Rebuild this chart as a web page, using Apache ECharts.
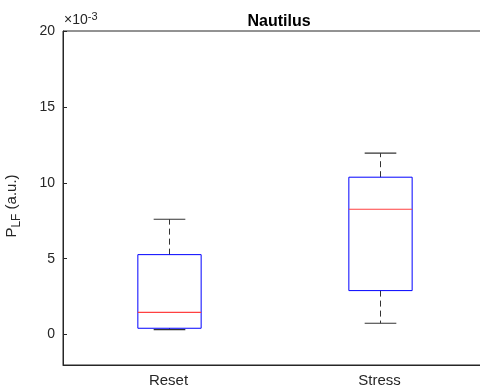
<!DOCTYPE html>
<html>
<head>
<meta charset="utf-8">
<script src="https://cdn.jsdelivr.net/npm/echarts@6/dist/echarts.min.js"></script>
<style>
html,body{margin:0;padding:0;background:#fff;overflow:hidden;}
#chart{width:486px;height:390px;}
</style>
</head>
<body>
<div id="chart"></div>
<script>
// Groups and box statistics (values in units of 1e-3)
const categories = ['Reset', 'Stress'];
const lowerWhisker = [0.33, 0.75];
const q1 = [0.42, 2.90];
const median = [1.47, 8.26];
const q3 = [5.27, 10.37];
const upperWhisker = [7.60, 11.95];
const yTicks = [0, 5, 10, 15, 20];

const boxData = categories.map((c, i) => [i, lowerWhisker[i], q1[i], median[i], q3[i], upperWhisker[i]]);

const axisColor = '#262626';
const font = 'Liberation Sans, Arial, Helvetica, sans-serif';

function renderBox(params, api) {
  const idx = api.value(0);
  const band = api.size([1, 0])[0];
  const boxHalf = band * 0.15;
  const capHalf = band * 0.075;
  const pLw = api.coord([idx, api.value(1)]);
  const pQ1 = api.coord([idx, api.value(2)]);
  const pMed = api.coord([idx, api.value(3)]);
  const pQ3 = api.coord([idx, api.value(4)]);
  const pUw = api.coord([idx, api.value(5)]);
  const x = Math.round(pMed[0]) + 0.5;
  const whisk = { stroke: '#333', lineWidth: 1, lineDash: [6, 4] };
  const cap = { stroke: '#333', lineWidth: 1.2 };
  return {
    type: 'group',
    children: [
      { type: 'line', shape: { x1: x, y1: pQ3[1], x2: x, y2: pUw[1] }, style: whisk },
      { type: 'line', shape: { x1: x, y1: pQ1[1], x2: x, y2: pLw[1] }, style: whisk },
      { type: 'line', shape: { x1: x - capHalf, y1: pUw[1], x2: x + capHalf, y2: pUw[1] }, style: cap },
      { type: 'line', shape: { x1: x - capHalf, y1: pLw[1], x2: x + capHalf, y2: pLw[1] }, style: cap },
      { type: 'rect', shape: { x: x - boxHalf, y: pQ3[1], width: boxHalf * 2, height: pQ1[1] - pQ3[1] },
        style: { fill: 'none', stroke: '#0000ff', lineWidth: 1 } },
      { type: 'line', shape: { x1: x - boxHalf, y1: pMed[1], x2: x + boxHalf, y2: pMed[1] },
        style: { stroke: '#ff4040', lineWidth: 1.2 } }
    ]
  };
}

const chart = echarts.init(document.getElementById('chart'), null, { renderer: 'canvas' });
chart.setOption({
  animation: false,
  backgroundColor: '#ffffff',
  title: {
    text: 'Nautilus',
    left: 274, top: 9, textAlign: 'center',
    textStyle: { fontFamily: font, fontSize: 16, fontWeight: 'bold', color: '#000' }
  },
  grid: {
    left: 63, right: 1, top: 31, bottom: 25,
    show: true, borderColor: axisColor, borderWidth: 1, backgroundColor: 'transparent'
  },
  xAxis: {
    type: 'category',
    data: categories,
    axisLine: { onZero: false, lineStyle: { color: axisColor, width: 1 } },
    axisTick: { inside: true, alignWithLabel: true, length: 4, lineStyle: { color: axisColor } },
    axisLabel: { color: axisColor, fontFamily: font, fontSize: 15, margin: 8 },
    splitLine: { show: false }
  },
  yAxis: {
    type: 'value',
    min: -2, max: 20,
    axisLine: { show: true, onZero: false, lineStyle: { color: axisColor, width: 1 } },
    axisTick: { show: true, inside: true, length: 4, customValues: yTicks, lineStyle: { color: axisColor } },
    axisLabel: { color: axisColor, fontFamily: font, fontSize: 14, margin: 8, customValues: yTicks },
    splitLine: { show: false }
  },
  graphic: [
    {
      type: 'text', left: 64, top: 11,
      style: {
        text: '{a|×10}{b|-3}',
        rich: {
          a: { fontFamily: font, fontSize: 14, fill: axisColor },
          b: { fontFamily: font, fontSize: 11, fill: axisColor, padding: [0, 0, 8, 0] }
        }
      }
    },
    {
      type: 'text', x: 12, y: 206, rotation: Math.PI / 2,
      style: {
        text: '{a|P}{b|LF}{a| (a.u.)}',
        align: 'center', verticalAlign: 'middle',
        rich: {
          a: { fontFamily: font, fontSize: 15, fill: axisColor },
          b: { fontFamily: font, fontSize: 12, fill: axisColor, padding: [10, 0, 0, 0] }
        }
      }
    }
  ],
  series: [{
    type: 'custom',
    renderItem: renderBox,
    encode: { x: 0, y: [1, 2, 3, 4, 5] },
    data: boxData,
    clip: false
  }]
});
</script>
</body>
</html>
